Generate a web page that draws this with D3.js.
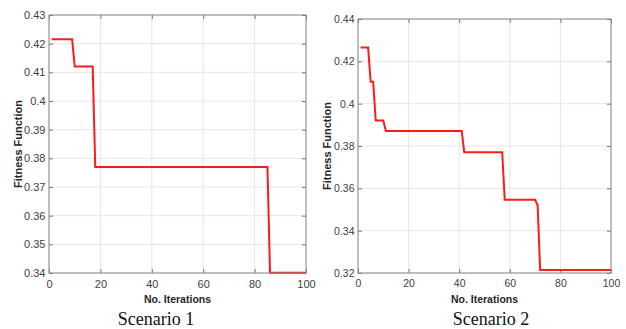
<!DOCTYPE html>
<html>
<head>
<meta charset="utf-8">
<script src="https://cdn.jsdelivr.net/npm/d3@7"></script>
<style>
	body { margin: 0; background: #fff; }
	svg { display: block; }
	.tick text { font-family: Arial, "Liberation Sans", sans-serif; }
</style>
</head>
<body>
<div id="chart"></div>
<script>
// Scenario 1: iteration at each corner of the stepped curve, and its fitness value
const iters1 = [1, 9, 10, 17, 18, 85, 86, 100];
const fitness1 = [0.4215, 0.4215, 0.412, 0.412, 0.377, 0.377, 0.3401, 0.3401];
const yTicks1 = [0.34, 0.35, 0.36, 0.37, 0.38, 0.39, 0.4, 0.41, 0.42, 0.43];

// Scenario 2
const iters2 = [1, 4, 5, 6, 7, 10, 11, 41, 42, 57, 58, 70, 71, 72, 100];
const fitness2 = [0.4265, 0.4265, 0.4103, 0.4103, 0.3921, 0.3921, 0.3871, 0.3871,
	0.377, 0.377, 0.3546, 0.3546, 0.352, 0.3214, 0.3214];
const yTicks2 = [0.32, 0.34, 0.36, 0.38, 0.4, 0.42, 0.44];

const xTicks = [0, 20, 40, 60, 80, 100];
const titles = ["Scenario 1", "Scenario 2"];

const width = 626, height = 329;

const svg = d3
	.select("#chart")
	.append("svg")
	.attr("width", width)
	.attr("height", height);

function drawpanel(box, iters, fitness, yTicks, title, titleX, fs, labelGap) {
	const x = d3.scaleLinear().domain([0, 100]).range([box.left, box.right]);
	const y = d3
		.scaleLinear()
		.domain([yTicks[0], yTicks[yTicks.length - 1]])
		.range([box.bottom, box.top]);

	const g = svg.append("g");

	// light grid
	g.append("g")
		.selectAll()
		.data(xTicks)
		.join("line")
		.attr("x1", (d) => x(d)).attr("x2", (d) => x(d))
		.attr("y1", box.top).attr("y2", box.bottom)
		.attr("stroke", "#e6e6e6");
	g.append("g")
		.selectAll()
		.data(yTicks)
		.join("line")
		.attr("y1", (d) => y(d)).attr("y2", (d) => y(d))
		.attr("x1", box.left).attr("x2", box.right)
		.attr("stroke", "#e6e6e6");

	// axes, ticks pointing inward like MATLAB
	const fmt = (d) => d3.format("")(+d.toFixed(2));
	const axisStyle = (a) => {
		a.select(".domain").remove();
		a.selectAll(".tick line").attr("stroke", "#777");
		a.selectAll(".tick text")
			.attr("fill", "#404040")
			.attr("font-size", fs);
	};
	g.append("g")
		.attr("transform", `translate(0,${box.bottom})`)
		.call(d3.axisBottom(x).tickValues(xTicks).tickSizeInner(-4).tickPadding(7))
		.call(axisStyle);
	g.append("g")
		.attr("transform", `translate(0,${box.top})`)
		.call(d3.axisTop(x).tickValues(xTicks).tickSizeInner(-4).tickFormat(""))
		.call(axisStyle);
	g.append("g")
		.attr("transform", `translate(${box.left},0)`)
		.call(d3.axisLeft(y).tickValues(yTicks).tickSizeInner(-4).tickPadding(3.5).tickFormat(fmt))
		.call(axisStyle);
	g.append("g")
		.attr("transform", `translate(${box.right},0)`)
		.call(d3.axisRight(y).tickValues(yTicks).tickSizeInner(-4).tickFormat(""))
		.call(axisStyle);

	// the fitness curve
	const line = d3
		.line()
		.x((d, i) => x(iters[i]))
		.y((d) => y(d));
	g.append("path")
		.datum(fitness)
		.attr("fill", "none")
		.attr("stroke", "#ff1a1a")
		.attr("stroke-width", 2)
		.attr("d", line);

	// box
	g.append("rect")
		.attr("x", box.left)
		.attr("y", box.top)
		.attr("width", box.right - box.left)
		.attr("height", box.bottom - box.top)
		.attr("fill", "none")
		.attr("stroke", "#8a8a8a");

	g.append("text")
		.attr("x", (box.left + box.right) / 2)
		.attr("y", 303)
		.attr("text-anchor", "middle")
		.attr("font-family", "Arial, 'Liberation Sans', sans-serif")
		.attr("font-weight", "bold")
		.attr("font-size", 10.5)
		.attr("fill", "#262626")
		.text("No. Iterations");

	g.append("text")
		.attr("transform", `translate(${box.left - labelGap},${(box.top + box.bottom) / 2}) rotate(-90)`)
		.attr("text-anchor", "middle")
		.attr("font-family", "Arial, 'Liberation Sans', sans-serif")
		.attr("font-weight", "bold")
		.attr("font-size", 11)
		.attr("fill", "#262626")
		.text("Fitness Function");

	g.append("text")
		.attr("x", titleX)
		.attr("y", 325)
		.attr("text-anchor", "middle")
		.attr("font-family", "'Times New Roman', 'Liberation Serif', serif")
		.attr("font-size", 18)
		.attr("fill", "#111")
		.text(title);
}

drawpanel({ left: 49, right: 306, top: 15, bottom: 273 }, iters1, fitness1, yTicks1, titles[0], 156, 11, 27.5);
drawpanel({ left: 358, right: 611, top: 19, bottom: 273 }, iters2, fitness2, yTicks2, titles[1], 491, 10.5, 27);
</script>
</body>
</html>
